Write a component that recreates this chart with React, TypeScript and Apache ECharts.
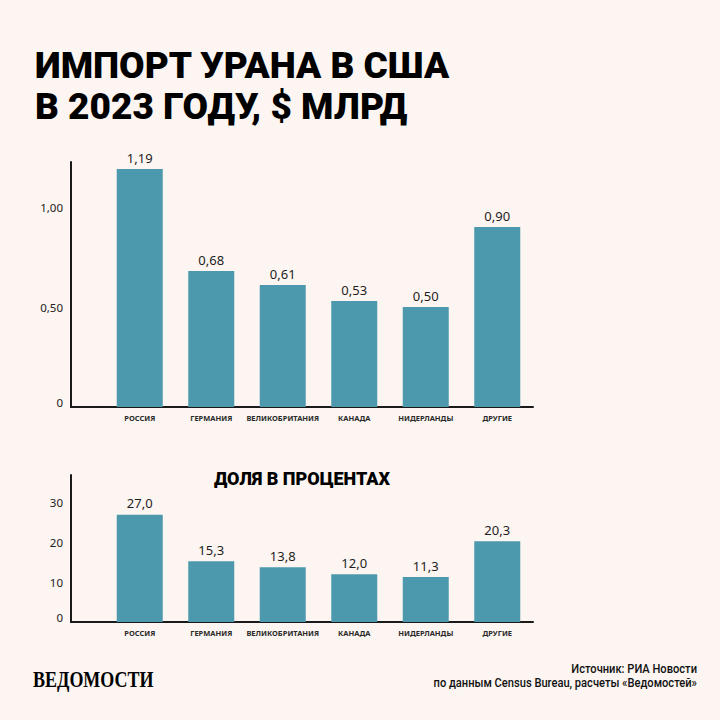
import React, { useEffect, useRef } from "react";
import * as echarts from "echarts";

const categories = ["РОССИЯ", "ГЕРМАНИЯ", "ВЕЛИКОБРИТАНИЯ", "КАНАДА", "НИДЕРЛАНДЫ", "ДРУГИЕ"];
const importValues = [1.19, 0.68, 0.61, 0.53, 0.5, 0.9];
const shareValues = [27.0, 15.3, 13.8, 12.0, 11.3, 20.3];

const titleLines = ["ИМПОРТ УРАНА В США", "В 2023 ГОДУ, $ МЛРД"];
const subtitle = "ДОЛЯ В ПРОЦЕНТАХ";
const logoText = "ВЕДОМОСТИ";
const sourceLines = ["Источник: РИА Новости", "по данным Census Bureau, расчеты «Ведомостей»"];

const BG = "#fcf5f1";
const BAR = "#4c99ad";
const INK = "#1a1a1a";
const SANS = '"Noto Sans", "Open Sans", sans-serif';
const HEAVY = 'Roboto, "Noto Sans", sans-serif';

const comma = (v: number, d: number) => v.toFixed(d).replace(".", ",");

export default function App() {
  const ref = useRef<HTMLDivElement>(null);

  useEffect(() => {
    if (!ref.current) return;
    const chart = echarts.init(ref.current, undefined, { renderer: "svg" });

    const xAxisBase = (gridIndex: number) => ({
      type: "category" as const,
      gridIndex,
      data: categories,
      axisLine: { show: true, lineStyle: { color: INK, width: 2 } },
      axisTick: { show: false },
      axisLabel: {
        interval: 0,
        fontSize: 7.5,
        fontWeight: "bold" as const,
        color: "#2a2a2a",
        fontFamily: SANS,
        margin: 7,
      },
    });

    const yAxisBase = (gridIndex: number, max: number, interval: number, fmt: (v: number) => string) => ({
      type: "value" as const,
      gridIndex,
      min: 0,
      max,
      interval,
      offset: 33,
      axisLine: { show: true, lineStyle: { color: INK, width: 2 } },
      axisTick: { show: false },
      splitLine: { show: false },
      axisLabel: {
        showMaxLabel: false,
        margin: 8,
        fontSize: 11.5,
        color: "#222",
        fontFamily: SANS,
        formatter: (v: number) => (v === 0 ? "{z|0}" : fmt(v)),
        rich: { z: { fontSize: 11.5, color: "#222", fontFamily: SANS, padding: [0, 0, 10, 0] } },
      },
    });

    const barSeries = (idx: number, data: number[], d: number) => ({
      type: "bar" as const,
      xAxisIndex: idx,
      yAxisIndex: idx,
      data,
      barWidth: 46,
      itemStyle: { color: BAR },
      label: {
        show: true,
        position: "top" as const,
        distance: 5,
        fontSize: 13,
        color: "#1e1e1e",
        fontFamily: SANS,
        formatter: (p: any) => comma(p.value, d),
      },
    });

    chart.setOption({
      animation: false,
      backgroundColor: BG,
      grid: [
        { left: 104, width: 429, top: 162, height: 245 },
        { left: 104, width: 429, top: 475, height: 147 },
      ],
      xAxis: [xAxisBase(0), xAxisBase(1)],
      yAxis: [
        yAxisBase(0, 1.225, 0.5, (v) => comma(v, 2)),
        yAxisBase(1, 37, 10, (v) => String(v)),
      ],
      series: [barSeries(0, importValues, 2), barSeries(1, shareValues, 1)],
      graphic: [
        { type: "line", shape: { x1: 70, y1: 407, x2: 105, y2: 407 }, style: { stroke: INK, lineWidth: 2 } },
        { type: "line", shape: { x1: 70, y1: 622, x2: 105, y2: 622 }, style: { stroke: INK, lineWidth: 2 } },
        ...titleLines.map((t, i) => ({
          type: "text",
          x: 35,
          y: 65 + i * 41,
          style: {
            text: t,
            fontSize: 37,
            fontWeight: 900,
            fontFamily: HEAVY,
            fill: "#000",
            textAlign: "left",
            textVerticalAlign: "middle",
          },
        })),
        {
          type: "text",
          x: 302,
          y: 478,
          style: {
            text: subtitle,
            fontSize: 18,
            fontWeight: 900,
            fontFamily: HEAVY,
            fill: "#000",
            textAlign: "center",
            textVerticalAlign: "middle",
          },
        },
        {
          type: "text",
          x: 33,
          y: 679,
          scaleX: 0.75,
          style: {
            text: logoText,
            fontSize: 24,
            fontWeight: "bold",
            fontFamily: '"Liberation Serif", "DejaVu Serif", serif',
            fill: "#000",
            textAlign: "left",
            textVerticalAlign: "middle",
          },
        },
        ...sourceLines.map((t, i) => ({
          type: "text",
          x: 697,
          y: 669 + i * 14,
          scaleX: 0.89,
          style: {
            text: t,
            fontSize: 12.5,
            fontWeight: 500,
            fontFamily: HEAVY,
            fill: "#111",
            textAlign: "right",
            textVerticalAlign: "middle",
          },
        })),
      ],
    });

    return () => chart.dispose();
  }, []);

  return (
    <div
      ref={ref}
      style={{ position: "fixed", left: 0, top: 0, width: 720, height: 720, background: BG }}
    />
  );
}
